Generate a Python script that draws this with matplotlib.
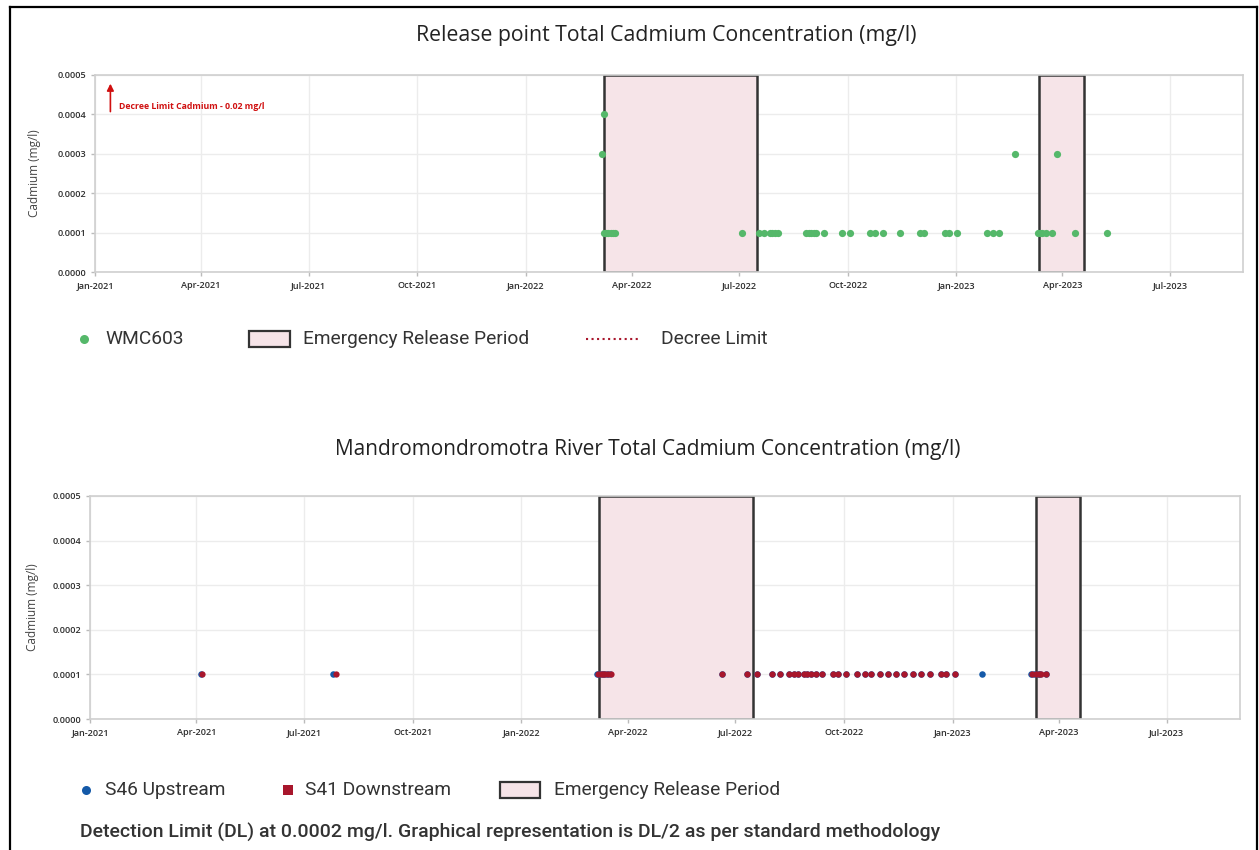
import numpy as np
import pandas as pd
import matplotlib
matplotlib.use("Agg")
import matplotlib.pyplot as plt
import matplotlib.dates as mdates
from matplotlib.lines import Line2D
from matplotlib.patches import Rectangle

# ---- data ----
wmc_dates = ["2022-03-08", "2022-03-07",
             "2022-03-08", "2022-03-10", "2022-03-12", "2022-03-14", "2022-03-16", "2022-03-18",
             "2022-07-03", "2022-07-18", "2022-07-22", "2022-07-27", "2022-07-29", "2022-07-31",
             "2022-08-03", "2022-08-27", "2022-08-29", "2022-08-31", "2022-09-02", "2022-09-04",
             "2022-09-11", "2022-09-26", "2022-10-03", "2022-10-20", "2022-10-24", "2022-10-31",
             "2022-11-14", "2022-12-01", "2022-12-05", "2022-12-22", "2022-12-26", "2023-01-02",
             "2023-01-27", "2023-02-01", "2023-02-06", "2023-03-11", "2023-03-13", "2023-03-15",
             "2023-03-18", "2023-03-23", "2023-04-12", "2023-05-09",
             "2023-02-20", "2023-03-27"]
wmc_vals = [0.0004, 0.0003] + [0.0001] * 40 + [0.0003, 0.0003]

up_dates = ["2021-04-05", "2021-07-26",
            "2022-03-06", "2022-03-08", "2022-03-10", "2022-03-12", "2022-03-14", "2022-03-17",
            "2022-06-20", "2022-07-11", "2022-07-19", "2022-08-01", "2022-08-08", "2022-08-15",
            "2022-08-20", "2022-08-23", "2022-08-28", "2022-08-31", "2022-09-03", "2022-09-07",
            "2022-09-12", "2022-09-22", "2022-09-26", "2022-10-03", "2022-10-12", "2022-10-19",
            "2022-10-24", "2022-10-31", "2022-11-07", "2022-11-14", "2022-11-21", "2022-11-28",
            "2022-12-05", "2022-12-13", "2022-12-22", "2022-12-26", "2023-01-03", "2023-01-26",
            "2023-03-08", "2023-03-11", "2023-03-14", "2023-03-16", "2023-03-21"]
up_vals = [0.0001] * len(up_dates)

down_dates = ["2021-04-06", "2021-07-28",
              "2022-03-07", "2022-03-09", "2022-03-11", "2022-03-13", "2022-03-15", "2022-03-18",
              "2022-06-20", "2022-07-11", "2022-07-19", "2022-08-01", "2022-08-08", "2022-08-15",
              "2022-08-20", "2022-08-23", "2022-08-28", "2022-08-31", "2022-09-03", "2022-09-07",
              "2022-09-12", "2022-09-22", "2022-09-26", "2022-10-03", "2022-10-12", "2022-10-19",
              "2022-10-24", "2022-10-31", "2022-11-07", "2022-11-14", "2022-11-21", "2022-11-28",
              "2022-12-05", "2022-12-13", "2022-12-22", "2022-12-26", "2023-01-03",
              "2023-03-09", "2023-03-12", "2023-03-15", "2023-03-17", "2023-03-21"]
down_vals = [0.0001] * len(down_dates)

release_start = ["2022-03-08", "2023-03-12"]
release_end = ["2022-07-16", "2023-04-19"]

decree_limit = 0.02
x_range = ["2021-01-01", "2023-09-01"]
y_max = 0.0005

GREEN = "#55b86a"
BLUE = "#1459a8"
RED = "#a8162c"
FILL = "#f6e4e8"
EDGE = "#333333"
GRID = "#ececec"

plt.rcParams["font.family"] = ["Open Sans", "DejaVu Sans"]

W, H = 1259, 850
fig = plt.figure(figsize=(W / 100, H / 100), dpi=100)
ax1 = fig.add_axes([0.0755, 0.68, 0.9118, 0.2318])
ax2 = fig.add_axes([0.0715, 0.1541, 0.9134, 0.2624])


def style_axis(ax):
    ax.set_xlim(pd.to_datetime(x_range[0]), pd.to_datetime(x_range[1]))
    ax.set_ylim(0, y_max)
    ax.set_yticks(np.arange(0, y_max + 1e-9, 0.0001))
    ax.yaxis.set_major_formatter(plt.FormatStrFormatter("%.4f"))
    ax.xaxis.set_major_locator(mdates.MonthLocator(bymonth=[1, 4, 7, 10]))
    ax.xaxis.set_major_formatter(mdates.DateFormatter("%b-%Y"))
    ax.grid(True, color=GRID, linewidth=1)
    ax.set_axisbelow(True)
    for s in ax.spines.values():
        s.set_color("#cfcfcf")
        s.set_linewidth(1.2)
    ax.tick_params(labelsize=6.6, colors="#bbbbbb", labelcolor="#2e2e2e", length=3, width=1)
    for lab in ax.get_xticklabels() + ax.get_yticklabels():
        lab.set_fontweight("semibold")
    ax.set_ylabel("Cadmium (mg/l)", fontsize=8.5, color="#444444")


def draw_release(ax):
    for s, e in zip(release_start, release_end):
        x0 = mdates.date2num(pd.to_datetime(s))
        x1 = mdates.date2num(pd.to_datetime(e))
        ax.add_patch(Rectangle((x0, 0), x1 - x0, y_max, facecolor=FILL,
                               edgecolor=EDGE, linewidth=1.8, zorder=1.5))


# ---- top chart ----
style_axis(ax1)
draw_release(ax1)
ax1.axhline(decree_limit, color=RED, linestyle=":", linewidth=1.5)
ax1.plot(pd.to_datetime(wmc_dates), wmc_vals, "o", color=GREEN, markersize=5.2,
         markeredgewidth=0, zorder=3)
ax1.annotate("", xy=(pd.to_datetime("2021-01-14"), 0.000485),
             xytext=(pd.to_datetime("2021-01-14"), 0.0004),
             arrowprops=dict(arrowstyle="-|>", color="#d01010", lw=1.2, mutation_scale=10))
ax1.text(pd.to_datetime("2021-01-21"), 0.00042, "Decree Limit Cadmium - 0.02 mg/l",
         color="#d01010", fontsize=6.3, fontweight="bold", va="center")
ax1.yaxis.set_label_coords(-0.047, 0.5)

# ---- bottom chart ----
style_axis(ax2)
draw_release(ax2)
ax2.plot(pd.to_datetime(up_dates), up_vals, "o", color=BLUE, markersize=4.7,
         markeredgewidth=0, zorder=3)
ax2.plot(pd.to_datetime(down_dates), down_vals, "o", color=RED, markersize=4.5,
         markeredgewidth=0, zorder=4)
ax2.yaxis.set_label_coords(-0.044, 0.5)

# titles
fig.text(666 / W, 1 - 36 / H, "Release point Total Cadmium Concentration (mg/l)",
         ha="center", va="center", fontsize=15.3, color="#222222", fontweight="medium")
fig.text(648 / W, 1 - 450 / H, "Mandromondromotra River Total Cadmium Concentration (mg/l)",
         ha="center", va="center", fontsize=15, color="#222222", fontweight="medium")

# legends, placed in pixel positions of the reference
LEG = dict(fontsize=13.8, color="#333333", va="center", family=["Roboto", "DejaVu Sans"])


def px(x, y):
    return x / W, 1 - y / H


def leg_marker(x, y, marker, color, size):
    fig.add_artist(Line2D([x / W], [1 - y / H], marker=marker, color=color, markersize=size,
                          markeredgewidth=0, linestyle="none", transform=fig.transFigure))


def leg_box(x0, x1, y):
    fig.add_artist(Rectangle(px(x0, y + 8), (x1 - x0) / W, 16 / H, facecolor=FILL,
                             edgecolor=EDGE, linewidth=1.6, transform=fig.transFigure))


ly = 339
leg_marker(84, ly, "o", GREEN, 6.5)
fig.text(*px(105, ly), "WMC603", **LEG)
leg_box(249, 290, ly)
fig.text(*px(303, ly), "Emergency Release Period", **LEG)
fig.add_artist(Line2D([586 / W, 641 / W], [1 - ly / H] * 2, color=RED, linestyle=":",
                      linewidth=1.5, transform=fig.transFigure))
fig.text(*px(661, ly), "Decree Limit", **LEG)

ly = 790
leg_marker(86, ly, "o", BLUE, 6.5)
fig.text(*px(105, ly), "S46 Upstream", **LEG)
leg_marker(288, ly, "s", RED, 6.5)
fig.text(*px(305, ly), "S41 Downstream", **LEG)
leg_box(500, 540, ly)
fig.text(*px(554, ly), "Emergency Release Period", **LEG)

fig.text(*px(80, 832),
         "Detection Limit (DL) at 0.0002 mg/l. Graphical representation is DL/2 as per standard methodology",
         fontsize=14.0, color="#333333", fontweight="medium", va="center",
         family=["Roboto", "DejaVu Sans"])

# page border
fig.add_artist(Line2D([0.008, 0.008], [0, 0.992], transform=fig.transFigure, color="black", linewidth=1.6))
fig.add_artist(Line2D([0.008, 0.9985], [0.992, 0.992], transform=fig.transFigure, color="black", linewidth=1.6))
fig.add_artist(Line2D([0.9985, 0.9985], [0, 0.992], transform=fig.transFigure, color="black", linewidth=1.6))

fig.savefig("out.png", dpi=100)
